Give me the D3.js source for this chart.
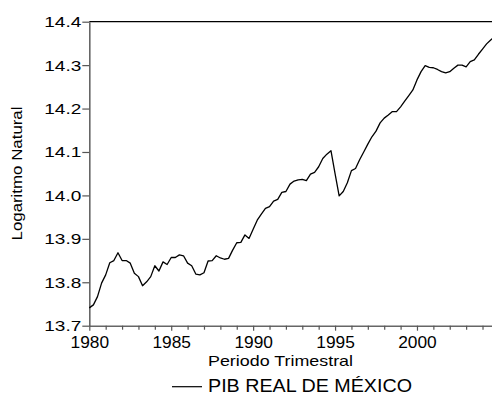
<!DOCTYPE html>
<html>
<head>
<meta charset="utf-8">
<script src="https://cdn.jsdelivr.net/npm/d3@7"></script>
<style>
  body { margin: 0; background: #fff; }
  svg { display: block; }
  text { font-family: Arial, "Liberation Sans", sans-serif; fill: #000; }
</style>
</head>
<body>
<div id="chart"></div>
<script>
// quarterly log of real GDP, 1980Q1 .. 2004Q4
var startYear = 1980;
var pib = [
  13.741, 13.748, 13.767, 13.798, 13.817, 13.845, 13.850, 13.868,
  13.850, 13.850, 13.844, 13.821, 13.813, 13.792, 13.801, 13.813,
  13.838, 13.826, 13.847, 13.841, 13.857, 13.857, 13.863, 13.861,
  13.844, 13.838, 13.819, 13.817, 13.822, 13.849, 13.850, 13.861,
  13.856, 13.853, 13.855, 13.874, 13.891, 13.892, 13.909, 13.901,
  13.922, 13.943, 13.957, 13.970, 13.974, 13.987, 13.991, 14.007,
  14.009, 14.026, 14.033, 14.036, 14.037, 14.034, 14.049, 14.053,
  14.066, 14.085, 14.095, 14.103, 14.050, 13.999, 14.009, 14.029,
  14.057, 14.062, 14.082, 14.100, 14.118, 14.135, 14.148, 14.167,
  14.178, 14.185, 14.193, 14.193, 14.204, 14.217, 14.230, 14.243,
  14.266, 14.285, 14.299, 14.295, 14.294, 14.290, 14.285, 14.282,
  14.285, 14.293, 14.300, 14.300, 14.296, 14.308, 14.312, 14.325,
  14.337, 14.349, 14.358, 14.366
];
var yTicks = [13.7, 13.8, 13.9, 14.0, 14.1, 14.2, 14.3, 14.4];
var xMajor = [1980, 1985, 1990, 1995, 2000];
var xMinor = d3.range(1980, 2005);
var yTitle = "Logaritmo Natural";
var xTitle = "Periodo Trimestral";
var legendLabel = "PIB REAL DE MÉXICO";

// 1: dimensions
var W = 492, H = 395;
var plotLeft = 89.3, plotTop = 21.7, plotBottom = 325.7;

var svg = d3.select("#chart").append("svg")
    .attr("width", W)
    .attr("height", H);

// 2: scales
var x = d3.scaleLinear()
    .domain([startYear, startYear + (pib.length - 1) / 4])
    .range([plotLeft, 494.8]);
var y = d3.scaleLinear()
    .domain([13.7, 14.4])
    .range([plotBottom, plotTop]);

// 3: frame
svg.append("line")
    .attr("x1", plotLeft).attr("x2", W)
    .attr("y1", plotTop).attr("y2", plotTop)
    .style("stroke", "#000").style("stroke-width", 1.3);

// 4: axes
var yAxis = svg.append("g")
    .attr("transform", "translate(" + plotLeft + ",0)")
    .call(d3.axisLeft(y).tickValues(yTicks).tickFormat(d3.format(".1f"))
      .tickSizeInner(7).tickSizeOuter(0).tickPadding(1));
yAxis.select(".domain").style("stroke", "#666").style("stroke-width", 1.6);
yAxis.selectAll(".tick line").style("stroke", "#555").style("stroke-width", 1.2);
yAxis.selectAll("text")
    .style("font-size", "15.5px")
    .attr("textLength", 37)
    .attr("lengthAdjust", "spacingAndGlyphs");

var xAxis = svg.append("g")
    .attr("transform", "translate(0," + plotBottom + ")")
    .call(d3.axisBottom(x).tickValues(xMinor)
      .tickFormat(function(d) { return xMajor.indexOf(d) >= 0 ? d : ""; })
      .tickSizeInner(5).tickSizeOuter(0));
xAxis.select(".domain").style("stroke", "#666").style("stroke-width", 1.6);
xAxis.selectAll(".tick line")
    .style("stroke", "#555").style("stroke-width", 1.2)
    .attr("y2", function(d) { return xMajor.indexOf(d) >= 0 ? 5 : 4; });
xAxis.selectAll("text")
    .style("font-size", "16px")
    .attr("y", 22.6)
    .attr("dy", 0)
    .filter(function(d) { return xMajor.indexOf(d) >= 0; })
    .attr("textLength", 38.5)
    .attr("lengthAdjust", "spacingAndGlyphs");

// 5: series
var line = d3.line()
    .x(function(d, i) { return x(startYear + i / 4); })
    .y(function(d) { return y(d); });

svg.append("path")
    .datum(pib)
    .attr("d", line)
    .style("fill", "none")
    .style("stroke", "#000")
    .style("stroke-width", 1.3)
    .style("stroke-linejoin", "round");

// 6: titles
svg.append("text")
    .attr("transform", "translate(21.5,173.5) rotate(-90)")
    .attr("text-anchor", "middle")
    .style("font-size", "15px")
    .attr("textLength", 134)
    .attr("lengthAdjust", "spacingAndGlyphs")
    .text(yTitle);

svg.append("text")
    .attr("x", 208)
    .attr("y", 366)
    .style("font-size", "15px")
    .attr("textLength", 145)
    .attr("lengthAdjust", "spacingAndGlyphs")
    .text(xTitle);

// 7: legend
svg.append("line")
    .attr("x1", 172).attr("x2", 202)
    .attr("y1", 386.7).attr("y2", 386.7)
    .style("stroke", "#000").style("stroke-width", 1.2);

svg.append("text")
    .attr("x", 208)
    .attr("y", 391.7)
    .style("font-size", "17.5px")
    .attr("textLength", 204)
    .attr("lengthAdjust", "spacingAndGlyphs")
    .text(legendLabel);
</script>
</body>
</html>
